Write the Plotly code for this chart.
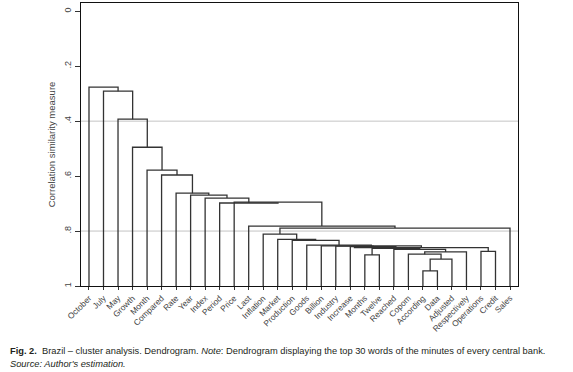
import plotly.graph_objects as go

# ---- data ----
LEAVES = ["October", "July", "May", "Growth", "Month", "Compared", "Rate", "Year",
          "Index", "Period", "Price", "Last", "Inflation", "Market", "Production",
          "Goods", "Billion", "Industry", "Increase", "Months", "Twelve", "Reached",
          "Copom", "According", "Data", "Adjusted", "Respectively", "Operations",
          "Credit", "Sales"]

# merges: cluster Ck joins MERGE_LEFT[k-1] and MERGE_RIGHT[k-1] at MERGE_HEIGHT[k-1]
MERGE_LEFT = ["According", "C1", "Months", "Copom", "C4", "Operations", "Reached", "C3",
              "Increase", "Industry", "C10", "Billion", "Goods", "Production", "Market",
              "Inflation", "C16", "Last", "Price", "Period", "Index", "Year", "Rate",
              "Compared", "Month", "Growth", "May", "July", "October"]
MERGE_RIGHT = ["Data", "Adjusted", "Twelve", "C2", "Respectively", "Credit", "C5", "C7",
               "C8", "C9", "C6", "C11", "C12", "C13", "C14",
               "C15", "Sales", "C17", "C18", "C19", "C20", "C21", "C22",
               "C23", "C24", "C25", "C26", "C27", "C28"]
MERGE_HEIGHT = [0.945, 0.902, 0.887, 0.884, 0.876, 0.874, 0.867, 0.863,
                0.857, 0.855, 0.860, 0.854, 0.851, 0.834, 0.830,
                0.811, 0.789, 0.782, 0.695, 0.698, 0.680, 0.669, 0.662,
                0.596, 0.578, 0.495, 0.393, 0.291, 0.276]

Y_TICKS = [0, 0.2, 0.4, 0.6, 0.8, 1]
Y_TICK_TEXT = ["0", ".2", ".4", ".6", ".8", "1"]
GRID_AT = [0.4, 0.8]

# ---- build dendrogram segments ----
pos = {name: i + 1 for i, name in enumerate(LEAVES)}
hgt = {name: 1.0 for name in LEAVES}
xs, ys = [], []
for k, (a, b, h) in enumerate(zip(MERGE_LEFT, MERGE_RIGHT, MERGE_HEIGHT), start=1):
    xa, xb = pos[a], pos[b]
    xs += [xa, xa, xb, xb, None]
    ys += [hgt[a], h, h, hgt[b], None]
    cid = "C%d" % k
    pos[cid] = (xa + xb) / 2
    hgt[cid] = h

fig = go.Figure()
fig.add_trace(go.Scatter(x=xs, y=ys, mode="lines",
                         line=dict(color="#333333", width=1.3),
                         hoverinfo="skip", showlegend=False))

for g in GRID_AT:
    fig.add_shape(type="line", xref="paper", x0=0, x1=1, yref="y", y0=g, y1=g,
                  line=dict(color="#c4c4c4", width=1), layer="below")

font_fam = "Liberation Sans, Arial, sans-serif"
fig.update_layout(
    width=573, height=372,
    margin=dict(l=81, r=55, t=3, b=86, autoexpand=False),
    paper_bgcolor="white", plot_bgcolor="white",
    font=dict(family=font_fam, color="#333333"),
    xaxis=dict(range=[0.45, 30.55], tickmode="array", automargin=False,
               tickvals=list(range(1, len(LEAVES) + 1)), ticktext=LEAVES,
               tickangle=-45, tickfont=dict(size=8.3, color="#444444"),
               showgrid=False, zeroline=False, showline=True, linecolor="#111111",
               linewidth=1.3, mirror=True, ticks="outside", ticklen=3,
               tickcolor="#333333"),
    yaxis=dict(range=[1.0, -0.03], tickmode="array", tickvals=Y_TICKS, automargin=False,
               ticktext=Y_TICK_TEXT, tickangle=-90,
               tickfont=dict(size=9, color="#444444"),
               showgrid=False, zeroline=False, showline=True, linecolor="#111111",
               linewidth=1.3, mirror=True, ticks="outside", ticklen=5,
               tickcolor="#333333",
               title=dict(text="Correlation similarity measure",
                          font=dict(size=9.5, color="#444444"), standoff=5)),
)

cap_font = dict(family=font_fam, size=9.3, color="#231f20")
fig.add_annotation(xref="paper", yref="paper", x=0, y=0, xanchor="left", yanchor="middle",
                   xshift=-73, yshift=-65, showarrow=False, font=cap_font,
                   text="<b>Fig. 2.</b>  Brazil \u2013 cluster analysis. Dendrogram. <i>Note</i>: "
                        "Dendrogram displaying the top 30 words of the minutes of every central bank.")
fig.add_annotation(xref="paper", yref="paper", x=0, y=0, xanchor="left", yanchor="middle",
                   xshift=-73, yshift=-78, showarrow=False, font=cap_font,
                   text="<i>Source: Author's estimation.</i>")

fig.write_html("out.html", config={"displayModeBar": False},
               post_script="document.body.style.margin='0';document.body.style.padding='0';")
